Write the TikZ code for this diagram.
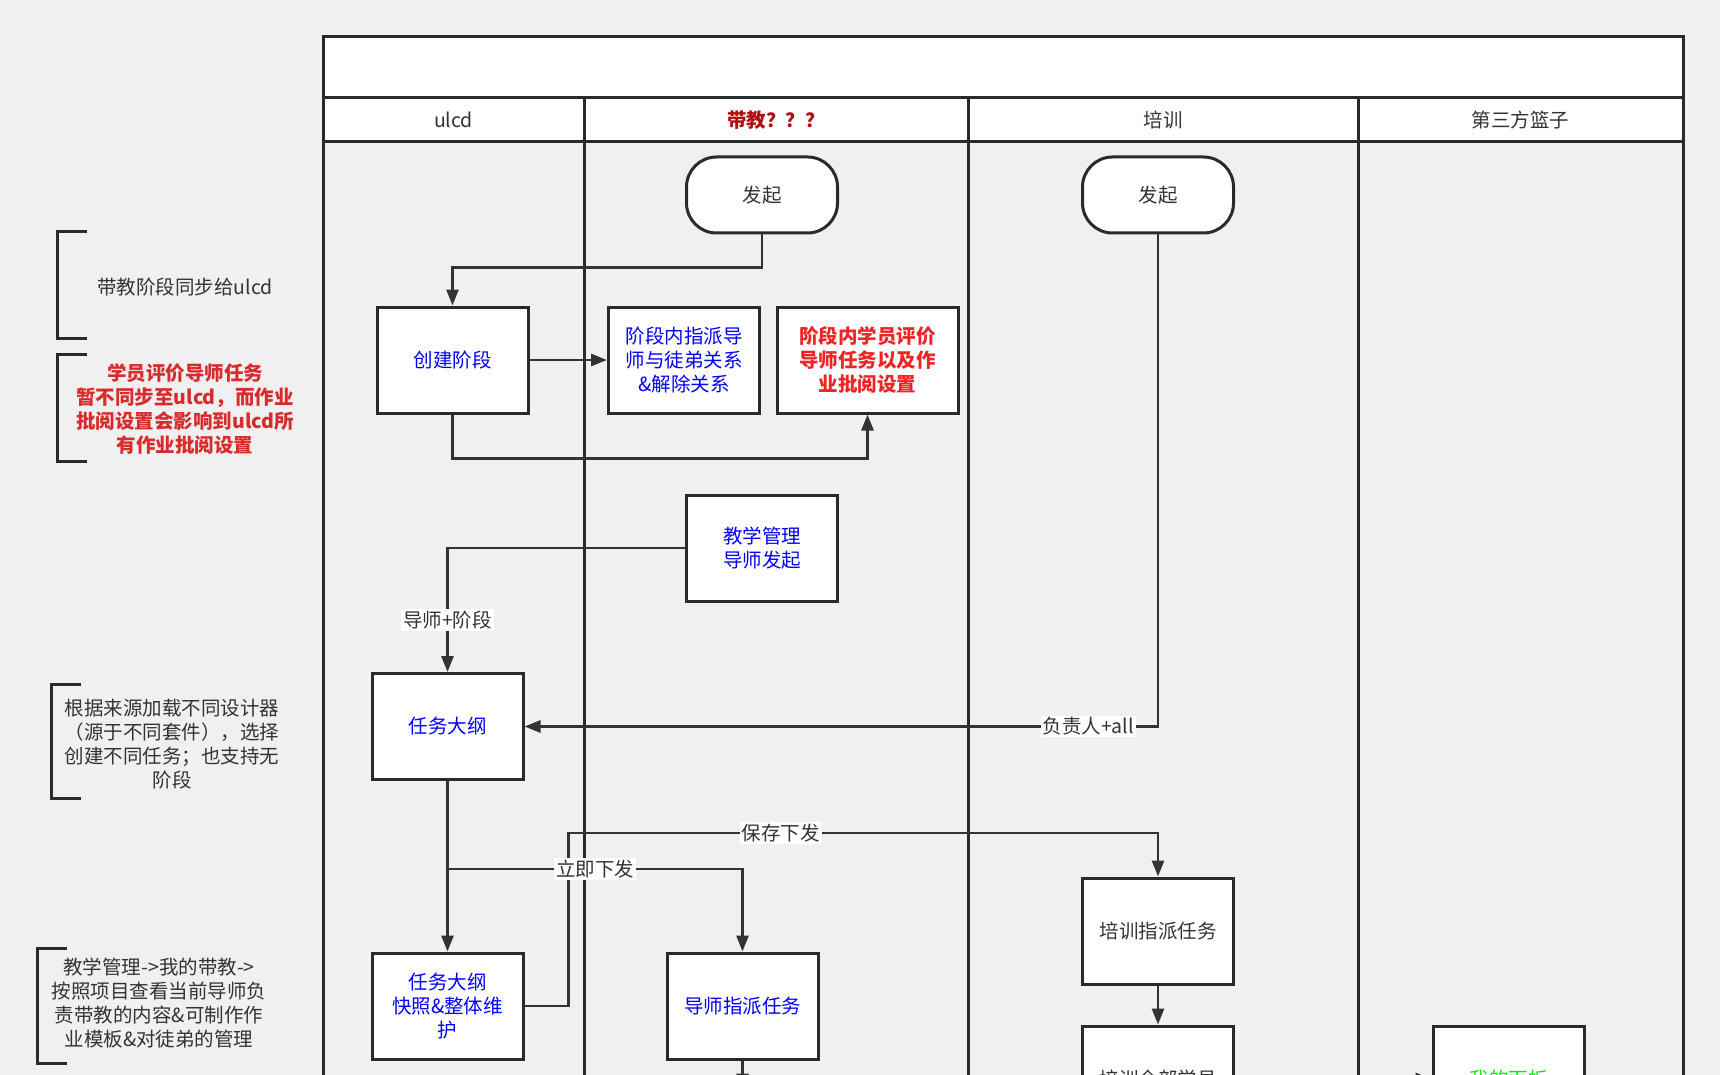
\documentclass[tikz,border=0pt]{standalone}
\usepackage{fontspec}
\setmainfont{Noto Sans CJK SC}
\usetikzlibrary{arrows.meta}

\definecolor{bgc}{HTML}{F0F0F0}
\definecolor{linec}{HTML}{333333}
\definecolor{framec}{HTML}{262B31}
\definecolor{notered}{HTML}{D92B2B}
\definecolor{hdrred}{HTML}{B01010}
\definecolor{txtblue}{HTML}{0000FF}
\definecolor{txtred}{HTML}{F02424}
\definecolor{txtgreen}{HTML}{00EE00}

\tikzstyle{pxfig}=[x=1pt,y=-1pt,font=\fontsize{19.5}{24}\selectfont]
\tikzstyle{lane}=[draw=framec,line width=3pt]
\tikzstyle{task}=[draw=framec,line width=3pt,fill=white,text=linec,minimum width=151pt,minimum height=106pt,align=center,inner sep=2pt]
\tikzstyle{terminal}=[task,rounded corners=30pt,minimum height=76pt]
\tikzstyle{flow}=[draw=linec,line width=2.8pt,-{Triangle[length=16pt,width=12pt]}]
\tikzstyle{tag}=[fill=white,text=linec,inner sep=2pt]
\tikzstyle{note}=[text=linec,align=center]
\tikzstyle{bracket}=[draw=framec,line width=3pt]

\begin{document}
\begin{tikzpicture}[style=pxfig]
\fill[bgc] (0,0) rectangle (1720,1075);
\useasboundingbox (0,0) rectangle (1720,1075);
\clip (0,0) rectangle (1720,1075);

% pool
\draw[lane,fill=white] (323,37) rectangle (1683,98);
\draw[lane,fill=white] (323,98) rectangle (1683,142);
\foreach \x in {323,1683}{% outer border
    \draw[lane] (\x,37) -- (\x,1090);
}
\foreach \x in {584,968,1358}{% lane dividers
    \draw[lane] (\x,98) -- (\x,1090);
}
\foreach \x/\lbl in {453.5/ulcd,1163/培训,1520.5/第三方篮子}{% lane titles
    \node[text=linec] (hd\x) at (\x,120) {\lbl};
}
\node[text=hdrred,font=\fontsize{19.5}{24}\selectfont\bfseries] (hdmentor) at (776,120) {带教？？？};

% notes on the left
\draw[bracket] (87,232) -- (57,232) -- (57,338) -- (87,338);
\node[note] (notesync) at (185,287) {带教阶段同步给ulcd};
\draw[bracket] (87,354) -- (57,354) -- (57,461) -- (87,461);
\node[note,text=notered,font=\fontsize{19.5}{24}\selectfont\bfseries] (noteeval) at (185,409)
    {学员评价导师任务\\暂不同步至ulcd，而作业\\批阅设置会影响到ulcd所\\有作业批阅设置};
\draw[bracket] (81,684) -- (51,684) -- (51,798) -- (81,798);
\node[note] (notedesign) at (172,744)
    {根据来源加载不同设计器\\（源于不同套件），选择\\创建不同任务；也支持无\\阶段};
\draw[bracket] (67,948) -- (37,948) -- (37,1063) -- (67,1063);
\node[note] (notemine) at (159,1003)
    {教学管理->我的带教->\\按照项目查看当前导师负\\责带教的内容\&可制作作\\业模板\&对徒弟的管理};

% steps
\node[terminal] (start1) at (762,195) {发起};
\node[terminal] (start2) at (1158,195) {发起};
\node[task,text=txtblue] (mkstage) at (452.5,360) {创建阶段};
\node[task,text=txtblue] (assign) at (684,360) {阶段内指派导\\师与徒弟关系\\\&解除关系};
\node[task,text=txtred,minimum width=181pt,font=\fontsize{19.5}{24}\selectfont\bfseries] (evalset) at (867.5,360)
    {阶段内学员评价\\导师任务以及作\\业批阅设置};
\node[task,text=txtblue] (teachmgr) at (762,548) {教学管理\\导师发起};
\node[task,text=txtblue] (outline) at (447.5,726.5) {任务大纲};
\node[task,text=txtblue] (snapshot) at (447.5,1006) {任务大纲\\快照\&整体维\\护};
\node[task,text=txtblue] (mentortask) at (742.5,1006) {导师指派任务};
\node[task] (traintask) at (1158,931) {培训指派任务};
\node[task] (trainall) at (1158,1079) {培训全部学员};
\node[task,text=txtgreen] (panel) at (1508.5,1079) {我的面板};

% flows
\draw[flow] (start1.south) |- ([yshift=38pt]mkstage.north) -- (mkstage.north);
\draw[flow] (mkstage) -- (assign);
\draw[flow] (mkstage.south) -- ++(0,44) -| (evalset.south);
\draw[flow] (teachmgr.west) -| node[tag,pos=0.79] {导师+阶段} (outline.north);
\draw[flow] (start2.south) |- node[tag,pos=0.555] {负责人+all} (outline.east);
\draw[flow] (outline) -- (snapshot);
\draw[flow] (snapshot.east) -- ++(44,0) -- ++(0,-173) -| node[tag,pos=0.18] {保存下发} (traintask.north);
\draw[flow] ([yshift=-88pt]outline.south) -| node[tag,pos=0.25] {立即下发} (mentortask.north);
\draw[flow] (mentortask.south) -- ++(0,29);
\draw[flow] (traintask) -- (trainall);
\draw[flow] (trainall) -- (panel);

\end{tikzpicture}
\end{document}
